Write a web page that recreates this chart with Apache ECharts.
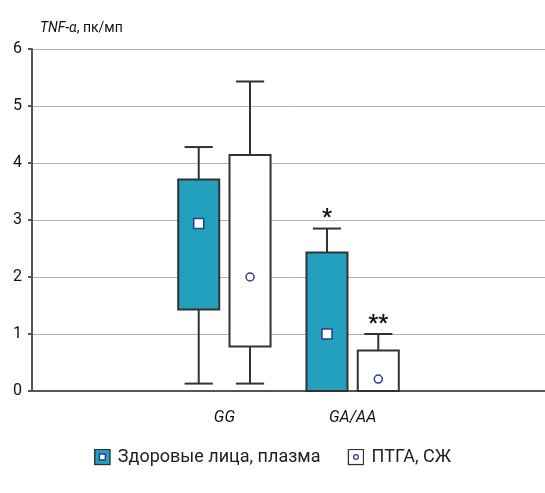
<!DOCTYPE html>
<html>
<head>
<meta charset="utf-8">
<script src="https://cdn.jsdelivr.net/npm/echarts@6/dist/echarts.min.js"></script>
<style>
  html, body { margin: 0; padding: 0; background: #fff; }
  #chart { width: 545px; height: 493px; }
</style>
</head>
<body>
<div id="chart"></div>
<script>
// Genotype groups along the x axis (empty slots pad both ends)
const categories = ['', 'GG', 'GA/AA', ''];
const seriesNames = ['Здоровые лица, плазма', 'ПТГА, СЖ'];
// Per group: [category index, min, Q1, Q3, max, mean]
const plasmaStats = [
  [1, 0.13, 1.43, 3.71, 4.28, 2.94],
  [2, 0, 0, 2.43, 2.85, 1.0]
];
const fluidStats = [
  [1, 0.13, 0.78, 4.14, 5.43, 2.0],
  [2, 0, 0, 0.71, 1.0, 0.21]
];
// Significance marks placed above each box
const plasmaNotes = ['', '*'];
const fluidNotes = ['', '**'];
const yMin = 0, yMax = 6, yStep = 1;

const TEAL = '#22a0be';
const INK = '#333333';
const NAVY = '#2b3e8e';
const FONT = 'Roboto, "Noto Sans", sans-serif';

function svgIcon(inner, fill) {
  const svg = "<svg xmlns='http://www.w3.org/2000/svg' width='40' height='40'>" +
    "<rect x='2' y='2' width='36' height='36' fill='" + fill + "' stroke='#333' stroke-width='3.5'/>" +
    inner + "</svg>";
  return 'image://data:image/svg+xml;charset=utf-8,' + encodeURIComponent(svg);
}
const plasmaIcon = svgIcon("<rect x='13' y='13' width='14' height='14' fill='#fff' stroke='" + NAVY + "' stroke-width='3.5'/>", TEAL);
const fluidIcon = svgIcon("<circle cx='20' cy='20' r='5.5' fill='#fff' stroke='" + NAVY + "' stroke-width='3'/>", '#fff');

function boxRenderer(shift, fill, marker, notes) {
  return function (params, api) {
    const idx = api.value(0);
    const band = api.size([1, 0])[0];
    const cx = api.coord([idx, 0])[0] + band * shift;
    const py = v => api.coord([idx, v])[1];
    const half = band * 0.16;
    const cap = band * 0.11;
    const vMin = api.value(1), vQ1 = api.value(2), vQ3 = api.value(3), vMax = api.value(4), vMean = api.value(5);
    const stroke = { stroke: INK, lineWidth: 2 };
    const children = [];
    if (vMin < vQ1) {
      children.push({ type: 'line', shape: { x1: cx, y1: py(vQ1), x2: cx, y2: py(vMin) }, style: stroke });
      children.push({ type: 'line', shape: { x1: cx - cap, y1: py(vMin), x2: cx + cap, y2: py(vMin) }, style: stroke });
    }
    children.push({ type: 'line', shape: { x1: cx, y1: py(vQ3), x2: cx, y2: py(vMax) }, style: stroke });
    children.push({ type: 'line', shape: { x1: cx - cap, y1: py(vMax), x2: cx + cap, y2: py(vMax) }, style: stroke });
    children.push({
      type: 'rect',
      shape: { x: cx - half, y: py(vQ3), width: half * 2, height: py(vQ1) - py(vQ3) },
      style: { fill: fill, stroke: INK, lineWidth: 2 }
    });
    const my = py(vMean);
    if (marker === 'square') {
      children.push({ type: 'rect', shape: { x: cx - 5, y: my - 5, width: 10, height: 10 },
        style: { fill: '#fff', stroke: NAVY, lineWidth: 1.5 } });
    } else {
      children.push({ type: 'circle', shape: { cx: cx, cy: my, r: 4 },
        style: { fill: '#fff', stroke: NAVY, lineWidth: 1.5 } });
    }
    const note = notes[params.dataIndex];
    if (note) {
      children.push({ type: 'text', x: cx, y: py(vMax) + 1,
        style: { text: note, fill: '#111', font: 'bold 22px ' + FONT, align: 'center', verticalAlign: 'bottom' } });
    }
    return { type: 'group', children: children };
  };
}

const chart = echarts.init(document.getElementById('chart'), null, { renderer: 'canvas' });
chart.setOption({
  animation: false,
  backgroundColor: '#fff',
  title: {
    text: '{i|TNF-α}{n|, пк/мп}',
    left: 35, top: 16,
    textStyle: {
      fontWeight: 'normal',
      rich: {
        i: { fontStyle: 'italic', fontWeight: 'normal', fontSize: 14, color: '#111', fontFamily: FONT },
        n: { fontWeight: 'normal', fontSize: 14, color: '#111', fontFamily: FONT }
      }
    }
  },
  legend: {
    bottom: 22,
    left: 'center',
    itemGap: 27,
    itemWidth: 17,
    itemHeight: 17,
    textStyle: { fontSize: 18, color: '#222', fontFamily: FONT, padding: [0, 0, 0, 2] },
    data: [
      { name: seriesNames[0], icon: plasmaIcon },
      { name: seriesNames[1], icon: fluidIcon }
    ]
  },
  grid: { left: 32, top: 49, width: 516, height: 342 },
  xAxis: {
    type: 'category',
    data: categories,
    boundaryGap: true,
    axisLine: { lineStyle: { color: '#555', width: 2 } },
    axisTick: { alignWithLabel: true, length: 6, lineStyle: { color: '#555', width: 2 } },
    axisLabel: { margin: 19, fontSize: 16, fontStyle: 'italic', color: '#111', fontFamily: FONT, interval: 0 },
    splitLine: { show: false }
  },
  yAxis: {
    type: 'value',
    min: yMin, max: yMax, interval: yStep,
    axisLine: { show: true, lineStyle: { color: '#555', width: 2 } },
    axisTick: { show: true, length: 4, lineStyle: { color: '#555', width: 2 } },
    axisLabel: { margin: 10, fontSize: 16, color: '#111', fontFamily: FONT },
    splitLine: { lineStyle: { color: '#b0b0b0', width: 1 } }
  },
  series: [
    {
      name: seriesNames[0],
      type: 'custom',
      renderItem: boxRenderer(-0.2, TEAL, 'square', plasmaNotes),
      encode: { x: 0, y: [1, 2, 3, 4, 5] },
      data: plasmaStats,
      z: 3
    },
    {
      name: seriesNames[1],
      type: 'custom',
      renderItem: boxRenderer(0.2, '#fff', 'circle', fluidNotes),
      encode: { x: 0, y: [1, 2, 3, 4, 5] },
      data: fluidStats,
      z: 3
    }
  ]
});
</script>
</body>
</html>
